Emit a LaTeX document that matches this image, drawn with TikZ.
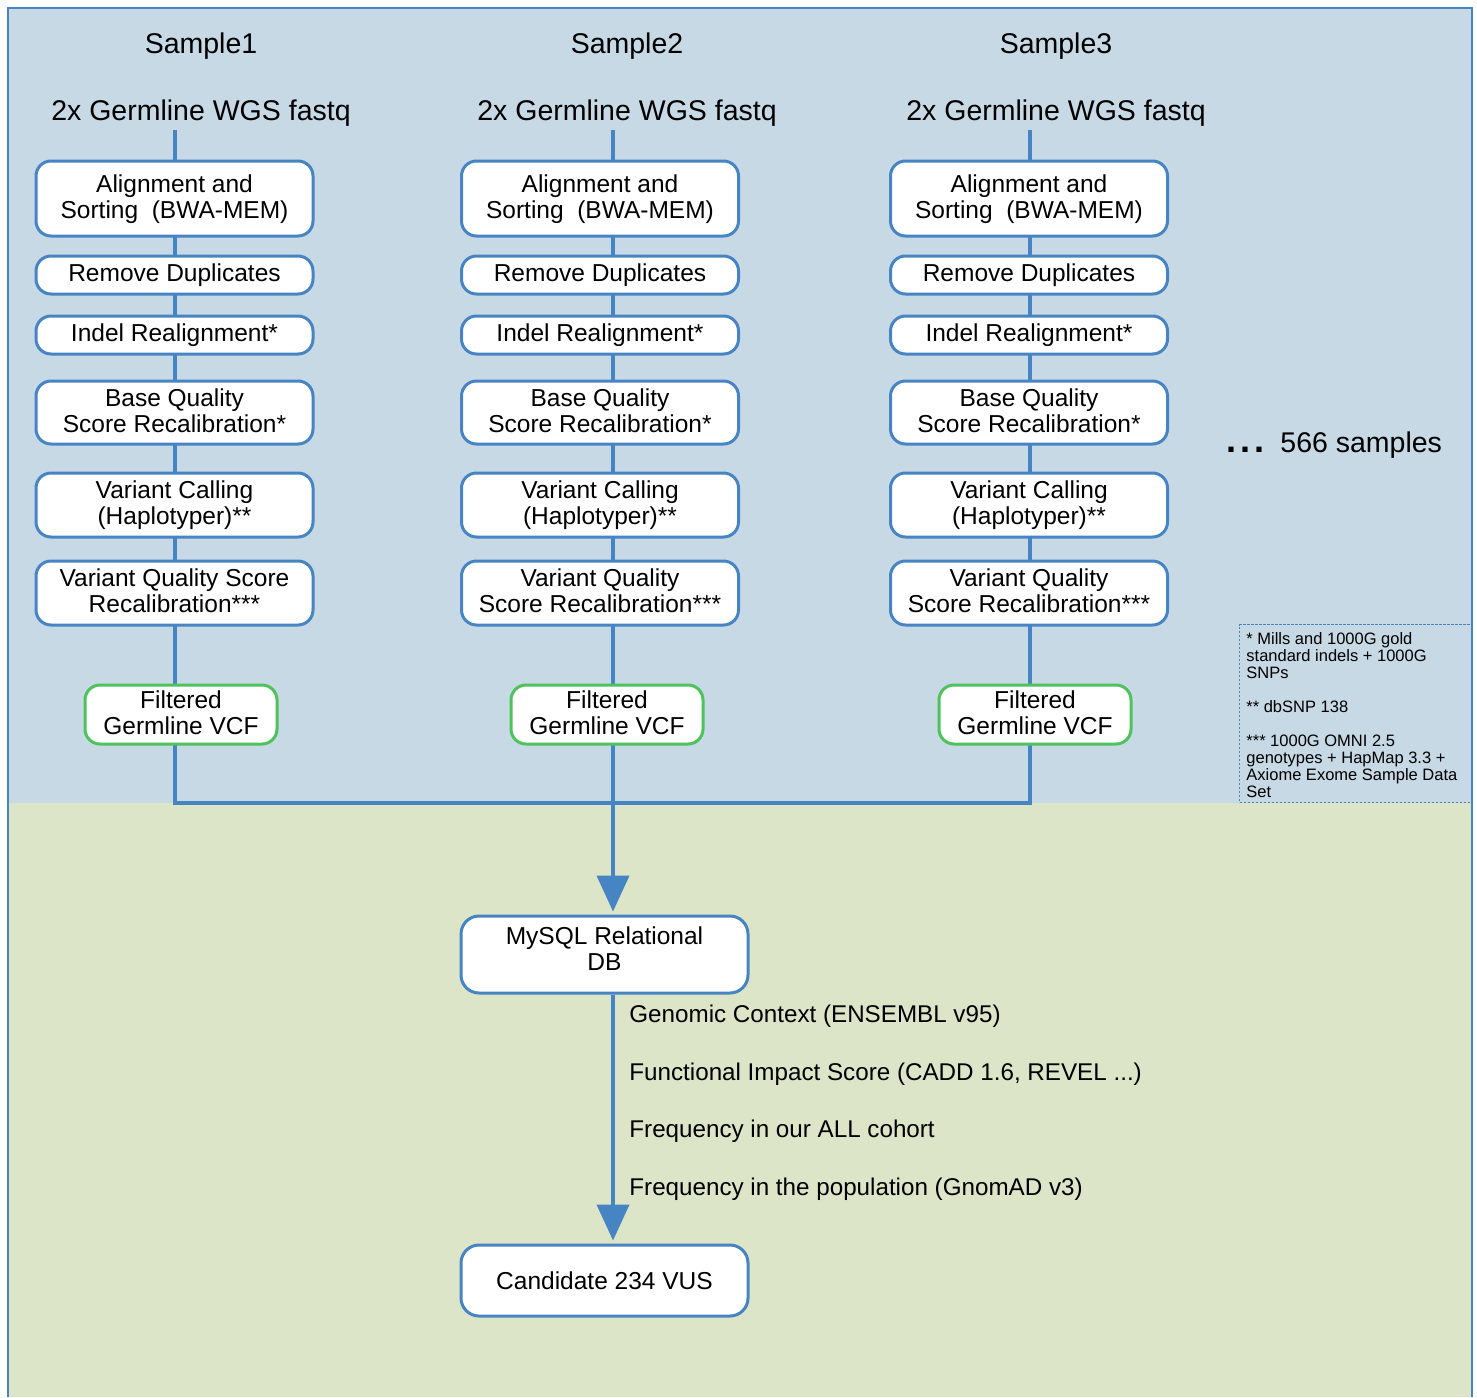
\documentclass[tikz,border=0pt]{standalone}
\usepackage{fontspec}
\setmainfont{Liberation Sans}
\usetikzlibrary{arrows.meta,positioning}
\definecolor{panelblue}{HTML}{C6D9E5}
\definecolor{panelgreen}{HTML}{DCE5C7}
\definecolor{flowblue}{HTML}{4784C3}
\definecolor{vcfgreen}{HTML}{4EC25B}

\begin{document}
\begin{tikzpicture}[x=0.5pt,y=-0.5pt]
\tikzset{stepbox/.style={draw=flowblue, line width=1.5pt, fill=white, rounded corners=7.5pt, align=center, inner sep=0pt, minimum width=138.5pt, font=\fontsize{12.25}{13}\selectfont},
         vcfbox/.style={stepbox, draw=vcfgreen, minimum width=96pt, minimum height=29.5pt},
         head/.style={anchor=base, inner sep=0pt, font=\fontsize{14.25}{17}\selectfont},
         flow/.style={flowblue, line width=2pt},
         tip/.style={-{Triangle[width=16pt,length=18pt]}},
         tag/.style={anchor=base west, inner sep=0pt, font=\fontsize{12.1}{14}\selectfont}}
\useasboundingbox (0,0) rectangle (1477,1397);
\fill[panelblue] (8,8) rectangle (1472,803);
\fill[panelgreen] (8,803) rectangle (1472,1397);
\draw[flowblue, line width=0.8pt] (8,1397) -- (8,8) -- (1472,8) -- (1472,1397);
\foreach \i/\bx/\lx/\fx/\tx/\vqa/\vqb in {1/174.5/175/181/201/Variant Quality Score/Recalibration***,
    2/600/613/607/627/Variant Quality/Score Recalibration***,
    3/1029/1030/1035/1056/Variant Quality/Score Recalibration***}{
  \coordinate (top\i) at (\lx,130);
  \coordinate (bot\i) at (\lx,803);
  \draw[flow] (top\i) -- (bot\i);
  \node[head] (sample\i) at (\tx,53) {Sample\i};
  \node[head] (fastq\i) at (\tx,120) {2x Germline WGS fastq};
  \node[stepbox, minimum height=37.5pt] (align\i) at (\bx,198.5) {Alignment and\\Sorting\ \ (BWA-MEM)\\[-11pt]\mbox{}};
  \node[stepbox, minimum height=19pt] (dup\i) at (\bx,275) {Remove Duplicates};
  \node[stepbox, minimum height=19pt] (indel\i) at (\bx,335) {Indel Realignment*};
  \node[stepbox, minimum height=31.5pt] (bqsr\i) at (\bx,412.5) {Base Quality\\Score Recalibration*\\[-11pt]\mbox{}};
  \node[stepbox, minimum height=32pt] (call\i) at (\bx,505) {Variant Calling\\(Haplotyper)**\\[-11pt]\mbox{}};
  \node[stepbox, minimum height=32pt] (vqsr\i) at (\bx,593) {\vqa\\\vqb\\[-11pt]\mbox{}};
  \node[vcfbox] (vcf\i) at (\fx,714.5) {Filtered\\Germline VCF\\[-11pt]\mbox{}};
}
\draw[flow, line cap=rect] (bot1) -- (bot3);
\node[stepbox, minimum width=143.5pt, minimum height=38.5pt, rounded corners=9pt] (db) at (604.5,954.5) {MySQL Relational\\DB\\[-7pt]\mbox{}};
\node[stepbox, minimum width=143.5pt, minimum height=35.5pt, rounded corners=9pt] (vus) at (604.5,1280.5) {Candidate 234 VUS};
\draw[flow, tip, shorten >=1.5pt] (bot2) -- (bot2 |- db.north);
\draw[flow, tip, shorten >=1.5pt] (db.south -| bot2) -- (vus.north -| bot2);
\node[tag] (ctx) at (629,1022) {Genomic Context (ENSEMBL v95)};
\node[tag] (impact) at (629,1080) {Functional Impact Score (CADD 1.6, REVEL ...)};
\node[tag] (cohort) at (629,1137) {Frequency in our ALL cohort};
\node[tag] (popul) at (629,1195) {Frequency in the population (GnomAD v3)};
\node[head, anchor=base west] (more) at (1226,452) {{\bfseries\fontsize{18}{18}\selectfont .\hspace{2pt}.\hspace{2pt}.}\hspace{8pt}566 samples};
\node[draw=flowblue, line width=0.7pt, dash pattern=on 1.2pt off 0.8pt, minimum width=116pt, minimum height=89pt, anchor=north west, inner sep=0pt] (notebox) at (1239,624) {};
\node[anchor=north west, inner sep=0pt, align=left, font=\fontsize{8.25}{8.5}\selectfont] (notes) at (1246,632)
  {* Mills and 1000G gold\\standard indels + 1000G\\SNPs\\[8.5pt]{**} dbSNP 138\\[8.5pt]{***} 1000G OMNI 2.5\\genotypes + HapMap 3.3 +\\Axiome Exome Sample Data\\Set};
\end{tikzpicture}
\end{document}
